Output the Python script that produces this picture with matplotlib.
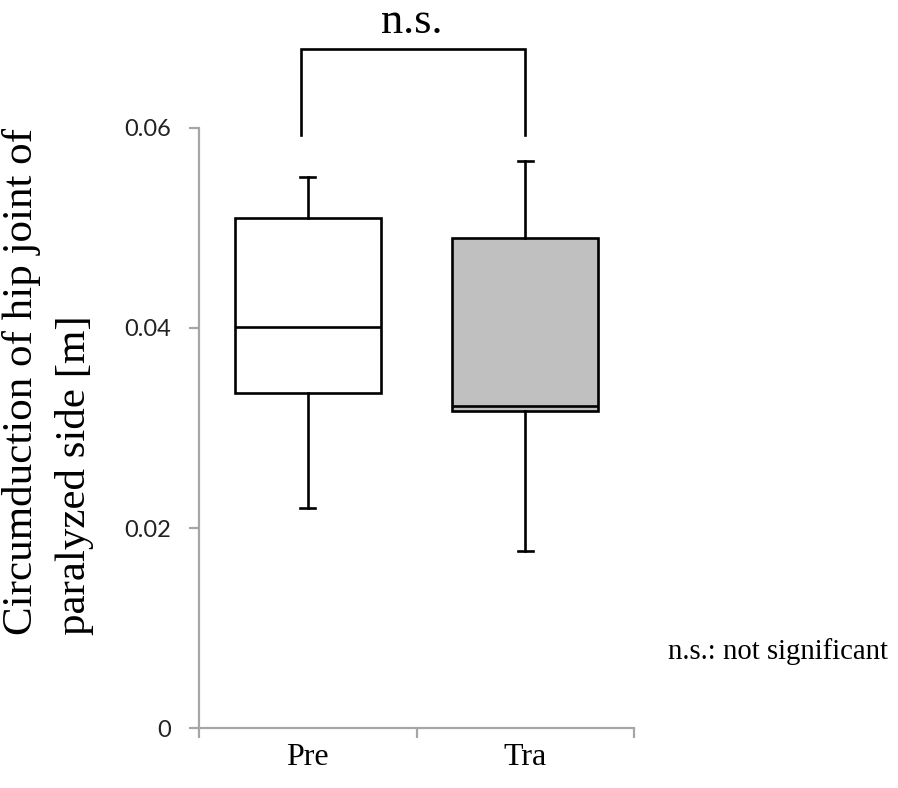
import numpy as np
import matplotlib
matplotlib.use("Agg")
import matplotlib.pyplot as plt

# values
groups = ["Pre", "Tra"]
whisker_low = [0.0220, 0.0177]
q1 = [0.0335, 0.0317]
median = [0.0401, 0.0322]
q3 = [0.0510, 0.0490]
whisker_high = [0.0551, 0.0567]
box_colors = ["white", "#c0c0c0"]
yticks = [0, 0.02, 0.04, 0.06]
ytick_labels = ["0", "0.02", "0.04", "0.06"]

serif = "Liberation Serif"
axis_gray = "#a6a6a6"

fig = plt.figure(figsize=(8.98, 7.88), dpi=100)
ax = fig.add_axes([0.2216, 0.0761, 0.4845, 0.7615])

stats = []
for i, g in enumerate(groups):
    stats.append({"label": g, "whislo": whisker_low[i], "q1": q1[i], "med": median[i],
                  "q3": q3[i], "whishi": whisker_high[i], "fliers": []})

pos = np.arange(len(groups))
bp = ax.bxp(stats, positions=pos, widths=0.67, patch_artist=True, showfliers=False,
            capwidths=0.068,
            boxprops=dict(linewidth=1.9, edgecolor="black"),
            medianprops=dict(color="black", linewidth=1.9),
            whiskerprops=dict(color="black", linewidth=1.9),
            capprops=dict(color="black", linewidth=1.9))
for patch, c in zip(bp["boxes"], box_colors):
    patch.set_facecolor(c)

ax.set_xlim(-0.5, 1.5)
ax.set_ylim(0, 0.06)

# axes styling
for s in ["top", "right"]:
    ax.spines[s].set_visible(False)
for s in ["left", "bottom"]:
    ax.spines[s].set_color(axis_gray)
    ax.spines[s].set_linewidth(1.6)

ax.set_yticks(yticks)
ax.set_yticklabels(ytick_labels, fontfamily="Lato", fontsize=17, color="#222222")
ax.tick_params(axis="y", length=7, width=1.6, color=axis_gray, pad=13)

ax.set_xticks(pos)
ax.set_xticklabels(groups, fontfamily=serif, fontsize=23)
ax.tick_params(axis="x", which="major", length=0, pad=11)
ax.set_xticks([-0.5, 0.5, 1.5], minor=True)
ax.tick_params(axis="x", which="minor", direction="out", length=7, width=1.6, color=axis_gray)

# significance bracket
bx = [-0.03, -0.03, 1.0, 1.0]
by = [0.0593, 0.0679, 0.0679, 0.0593]
ax.plot(bx, by, color="black", linewidth=1.9, clip_on=False, solid_joinstyle="miter")
ax.text(0.48, 0.0695, "n.s.", ha="center", va="baseline", fontfamily=serif, fontsize=32,
        clip_on=False)

# y label, two lines starting at the same height
fig.text(0.036, 0.194, "Circumduction of hip joint of", rotation=90, rotation_mode="anchor",
         ha="left", va="baseline", fontfamily=serif, fontsize=31)
fig.text(0.095, 0.194, "paralyzed side [m]", rotation=90, rotation_mode="anchor",
         ha="left", va="baseline", fontfamily=serif, fontsize=31)

fig.text(0.744, 0.164, "n.s.: not significant", ha="left", va="baseline",
         fontfamily=serif, fontsize=20.7)

fig.savefig("out.png", dpi=100, facecolor="white")
